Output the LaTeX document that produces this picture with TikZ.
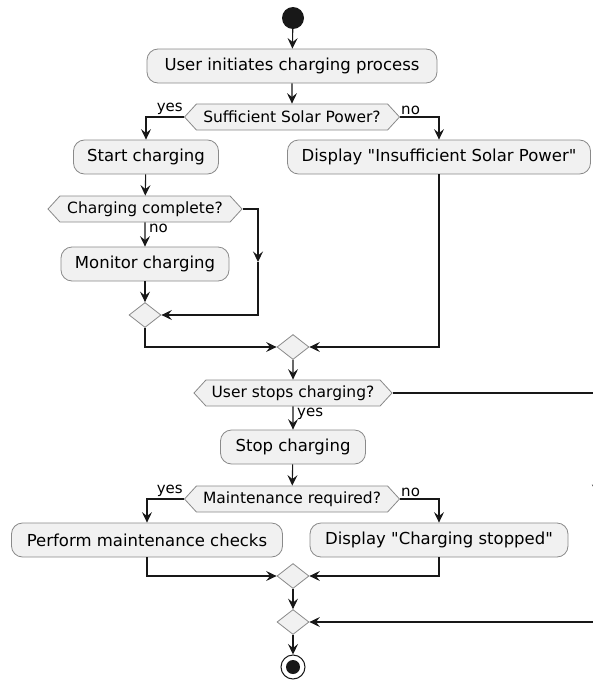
\documentclass[tikz,border=0pt]{standalone}
\usepackage{fontspec}
\setmainfont{DejaVu Sans}[Ligatures=TeXOff]
\usetikzlibrary{shapes.geometric,shapes.symbols,arrows.meta}
\definecolor{boxfill}{HTML}{F1F1F1}
\definecolor{boxline}{HTML}{8A8A8A}
\definecolor{arrowc}{HTML}{181818}
\tikzset{
  actbox/.style={rectangle, rounded corners=11pt, draw=boxline, fill=boxfill, line width=0.8pt,
    minimum height=34pt, inner sep=0pt, text=black, font=\fontsize{16.5}{19}\selectfont},
  decbox/.style={signal, signal to=west and east, signal pointer angle=95, draw=boxline, fill=boxfill,
    line width=0.8pt, minimum height=26pt, inner sep=0pt, text=black, font=\fontsize{15.5}{18}\selectfont},
  mergebox/.style={diamond, draw=boxline, fill=boxfill, line width=0.8pt,
    minimum width=32pt, minimum height=25pt, inner sep=0pt},
  flow/.style={draw=arrowc, line width=1.1pt, -{Stealth[length=10.5pt,width=10pt,inset=4pt]}},
  lbl/.style={font=\fontsize{15}{17}\selectfont, inner sep=1pt, text=black},
}
\begin{document}
\begin{tikzpicture}[x=1pt,y=-1pt]
\useasboundingbox (0,0) rectangle (593,680);
\fill[white] (0,0) rectangle (593,680);

\node[circle, fill=arrowc, minimum size=22pt, inner sep=0pt] (start) at (293,18) {};
\node[actbox, minimum width=290pt] (a1) at (292,66) {User initiates charging process};
\node[decbox, minimum width=215pt] (d1) at (292,117) {Sufficient Solar Power?};
\node[actbox, minimum width=145pt] (a2) at (146,157) {Start charging};
\node[actbox, minimum width=303pt] (a3) at (439,157) {Display "Insufficient Solar Power"};
\node[decbox, minimum width=194pt] (d2) at (145,209) {Charging complete?};
\node[actbox, minimum width=168pt] (a4) at (145,264) {Monitor charging};
\node[mergebox] (m1) at (145,315) {};
\node[mergebox] (m2) at (293,347) {};
\node[decbox, minimum width=198pt] (d3) at (293,393) {User stops charging?};
\node[actbox, minimum width=145pt] (a5) at (293,447) {Stop charging};
\node[decbox, minimum width=215pt] (d4) at (292,499) {Maintenance required?};
\node[actbox, minimum width=271pt] (a6) at (147,540) {Perform maintenance checks};
\node[actbox, minimum width=258pt] (a7) at (439,540) {Display "Charging stopped"};
\node[mergebox] (m3) at (293,576) {};
\node[mergebox] (m4) at (293,622) {};
\node[circle, draw=arrowc, line width=1pt, fill=white, minimum size=24pt, inner sep=0pt] (finish) at (293,667) {};
\node[circle, fill=arrowc, minimum size=14pt, inner sep=0pt] (finishdot) at (finish.center) {};

\coordinate (c1) at (258,262);
\coordinate (c2) at (597,495);

\draw[flow] (start) -- (a1);
\draw[flow] (a1) -- (d1);
\draw[flow] (d1.west) -| (a2.north);
\draw[flow] (d1.east) -| (a3.north);
\draw[flow] (a2) -- (d2);
\draw[flow] (d2) -- (a4);
\draw[flow] (d2.east) -| (c1);
\draw[flow] (c1) |- (m1.east);
\draw[flow] (a4) -- (m1);
\draw[flow] (m1.south) |- (m2.west);
\draw[flow] (a3.south) |- (m2.east);
\draw[flow] (m2) -- (d3);
\draw[flow] (d3.east) -| (c2);
\draw[flow] (c2) |- (m4.east);
\draw[flow] (d3) -- (a5);
\draw[flow] (a5) -- (d4);
\draw[flow] (d4.west) -| (a6.north);
\draw[flow] (d4.east) -| (a7.north);
\draw[flow] (a6.south) |- (m3.west);
\draw[flow] (a7.south) |- (m3.east);
\draw[flow] (m3) -- (m4);
\draw[flow] (m4) -- (finish);

\node[lbl, anchor=south east] (l1) at ([yshift=1pt]d1.west) {yes};
\node[lbl, anchor=south west] (l2) at ([yshift=1pt]d1.east) {no};
\node[lbl, anchor=north west] (l3) at ([xshift=3pt]d2.south) {no};
\node[lbl, anchor=north west] (l4) at ([xshift=3pt]d3.south) {yes};
\node[lbl, anchor=south east] (l5) at ([yshift=1pt]d4.west) {yes};
\node[lbl, anchor=south west] (l6) at ([yshift=1pt]d4.east) {no};
\end{tikzpicture}
\end{document}
